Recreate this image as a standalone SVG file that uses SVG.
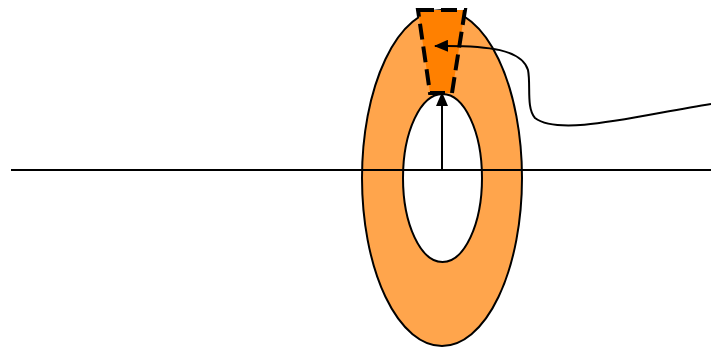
<svg xmlns="http://www.w3.org/2000/svg" width="711" height="347" viewBox="0 0 711 347">
<style>
.ln{fill:none;stroke:#000;stroke-width:2}
</style>
<defs>
<marker id="ah" markerWidth="14" markerHeight="12" refX="13" refY="6" orient="auto" markerUnits="userSpaceOnUse">
<path d="M0,0 L14,6 L0,12 Z" fill="#000"/>
</marker>
</defs>
<rect width="711" height="347" fill="#fff"/>
<g id="ring">
<path d="M362,178 a80,168 0 1,0 160,0 a80,168 0 1,0 -160,0 Z M403,178 a39.5,84 0 1,0 79,0 a39.5,84 0 1,0 -79,0 Z" fill="#FFA54C" fill-rule="evenodd" stroke="#000" stroke-width="2"/>
</g>
<g id="connectors">
<line class="ln" x1="11" y1="170" x2="711" y2="170"/>
<line class="ln" x1="442" y1="170" x2="442" y2="93" marker-end="url(#ah)"/>
</g>
<g id="wedge">
<polygon points="418,10 465,10 452,93 430,93" fill="#FF8000" stroke="#000" stroke-width="4" stroke-dasharray="16,7"/>
</g>
<g id="curve">
<path class="ln" d="M711,104 C640,115 560,137 535,118 C526,108 531,85 528,70 C522,50 490,45 435,46" marker-end="url(#ah)"/>
</g>
</svg>
